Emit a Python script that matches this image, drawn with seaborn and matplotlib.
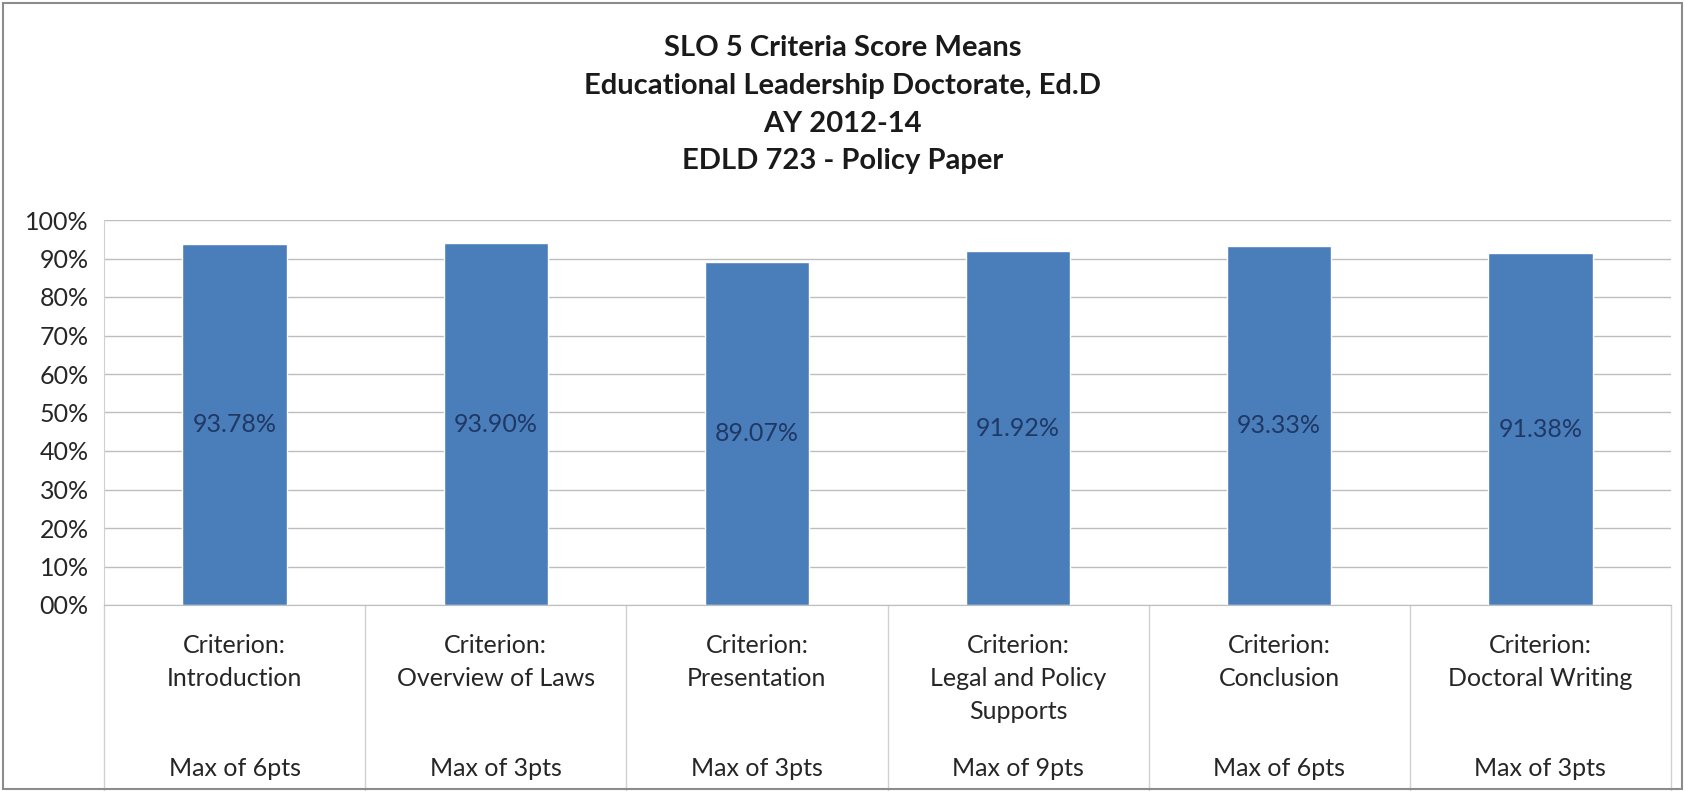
import matplotlib
matplotlib.use("Agg")
import matplotlib.pyplot as plt
import matplotlib.ticker as mticker
import matplotlib.transforms as mtransforms
import seaborn as sns
import pandas as pd

# data
criteria = ["Introduction", "Overview of Laws", "Presentation",
            "Legal and Policy\nSupports", "Conclusion", "Doctoral Writing"]
max_points = ["Max of 6pts", "Max of 3pts", "Max of 3pts",
              "Max of 9pts", "Max of 6pts", "Max of 3pts"]
score_means = [0.9378, 0.9390, 0.8907, 0.9192, 0.9333, 0.9138]
title_lines = ["SLO 5 Criteria Score Means",
               "Educational Leadership Doctorate, Ed.D",
               "AY 2012-14",
               "EDLD 723 - Policy Paper"]

df = pd.DataFrame({"criterion": criteria, "mean": score_means})

sns.set_style("white")
plt.rcParams["font.family"] = ["Lato", "DejaVu Sans"]

fig = plt.figure(figsize=(16.85, 7.91), dpi=100)
ax = fig.add_axes([104 / 1685, 1 - 605 / 791, (1671 - 104) / 1685, (605 - 220) / 791])

sns.barplot(data=df, x="criterion", y="mean", color="#4a7ebb", width=0.4,
            saturation=1, ax=ax)

ax.set_ylim(0, 1)
ax.set_xlim(-0.5, len(criteria) - 0.5)
ax.yaxis.set_major_locator(mticker.MultipleLocator(0.1))
ax.yaxis.set_major_formatter(mticker.FuncFormatter(lambda v, p: f"{v * 100:02.0f}%"))
ax.tick_params(axis="y", labelsize=18, colors="#262626", length=0, pad=11)
ax.set_xticks([])
ax.set_xlabel("")
ax.set_ylabel("")
ax.grid(axis="y", color="#bdbdbd", linewidth=1)
ax.set_axisbelow(True)
for s in ["top", "right"]:
    ax.spines[s].set_visible(False)
ax.spines["left"].set_color("#d0d0d0")
ax.spines["bottom"].set_color("#bdbdbd")

# value labels inside the bars
for i, v in enumerate(score_means):
    ax.text(i, v / 2, f"{v * 100:.2f}%", ha="center", va="center",
            fontsize=18, color="#1f3864")

# category labels and dividers below the axis
trans = mtransforms.blended_transform_factory(ax.transData, fig.transFigure)
for i in range(len(criteria) + 1):
    ax.plot([i - 0.5, i - 0.5], [0, 1 - 605 / 791], transform=trans,
            color="#d0d0d0", linewidth=1, clip_on=False)
for i, (c, m) in enumerate(zip(criteria, max_points)):
    ax.text(i, 1 - 634 / 791, "Criterion:\n" + c, transform=trans, ha="center",
            va="top", fontsize=18, color="#262626", linespacing=1.52)
    ax.text(i, 1 - 769 / 791, m, transform=trans, ha="center", va="center",
            fontsize=18, color="#262626")

title_y = [48, 86, 124, 161]
for t, y in zip(title_lines, title_y):
    fig.text(0.5, 1 - y / 791, t, ha="center", va="center", fontsize=21,
             fontweight="bold", color="#1a1a1a")

# outer frame
fig.patches.append(plt.Rectangle((0.002, 0.002), 0.996, 0.994, transform=fig.transFigure,
                                 fill=False, edgecolor="#8c8c8c", linewidth=1.5))

fig.savefig("out.png", dpi=100)
